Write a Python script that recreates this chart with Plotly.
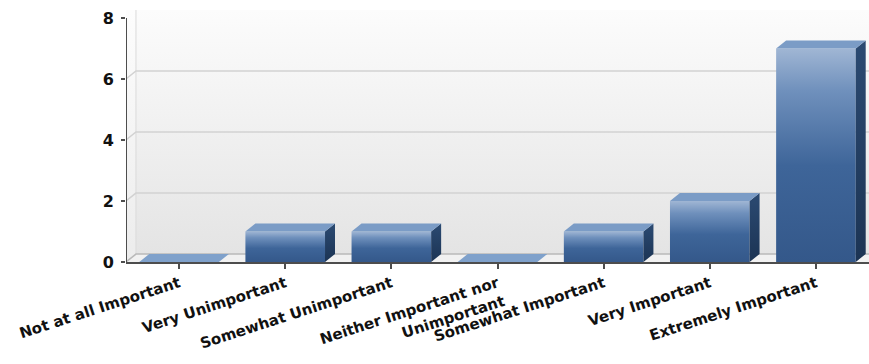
import plotly.graph_objects as go

# Survey responses: how important is it?
categories = [
    "Not at all Important",
    "Very Unimportant",
    "Somewhat Unimportant",
    "Neither Important nor<br>Unimportant",
    "Somewhat Important",
    "Very Important",
    "Extremely Important",
]
counts = [0, 1, 1, 0, 1, 2, 7]
y_ticks = [0, 2, 4, 6, 8]

# Pseudo-3D geometry (in axis units)
Y_MAX = 8
DEPTH_X = 0.094
DEPTH_Y = 0.26
HALF_W = 0.375
X_LO, X_HI = -0.5, len(categories) - 0.5
Y_TOP = Y_MAX + DEPTH_Y

AXIS_COLOR = "#4d4d4d"
FONT = "DejaVu Sans, Verdana, sans-serif"

fig = go.Figure()


def poly(xs, ys, color=None, gradient=None, line_color=None, line_width=0, hover=None):
    kw = dict(
        x=list(xs) + [xs[0]],
        y=list(ys) + [ys[0]],
        mode="lines",
        fill="toself",
        showlegend=False,
        line=dict(width=line_width, color=line_color or "rgba(0,0,0,0)"),
    )
    if gradient is not None:
        kw["fillgradient"] = gradient
    else:
        kw["fillcolor"] = color
    if hover is None:
        kw["hoverinfo"] = "skip"
    else:
        kw["hoveron"] = "fills"
        kw["text"] = hover
        kw["hoverinfo"] = "text"
    fig.add_trace(go.Scatter(**kw))


def vgrad(stops, start, stop):
    return dict(type="vertical", colorscale=stops, start=start, stop=stop)


# Back wall with a soft vertical gradient
poly([X_LO + DEPTH_X, X_HI, X_HI, X_LO + DEPTH_X],
     [DEPTH_Y, DEPTH_Y, Y_TOP, Y_TOP],
     gradient=vgrad([[0, "#e4e4e4"], [1, "#fcfcfc"]], DEPTH_Y, Y_TOP))

# Left side wall
poly([X_LO, X_LO + DEPTH_X, X_LO + DEPTH_X, X_LO],
     [0, DEPTH_Y, Y_TOP, Y_TOP],
     gradient=vgrad([[0, "#ececec"], [1, "#fdfdfd"]], 0, Y_TOP))

# Floor
poly([X_LO, X_HI + DEPTH_X, X_HI + DEPTH_X, X_LO + DEPTH_X],
     [0, 0, DEPTH_Y, DEPTH_Y], color="#f1f1f1")

# Wall edge and gridlines on the back wall
fig.add_trace(go.Scatter(
    x=[X_LO + DEPTH_X, X_LO + DEPTH_X], y=[DEPTH_Y, Y_TOP], mode="lines",
    line=dict(color="#dadada", width=1), hoverinfo="skip", showlegend=False))
for v in y_ticks[:-1]:
    fig.add_trace(go.Scatter(
        x=[X_LO, X_LO + DEPTH_X, X_HI],
        y=[v, v + DEPTH_Y, v + DEPTH_Y],
        mode="lines",
        line=dict(color="#b9b9b9" if v == 0 else "#d2d2d2", width=1.5),
        hoverinfo="skip", showlegend=False))

# Bars: front face, right side face and top face
front_scale = [[0, "#34588a"], [0.45, "#3e6599"], [0.8, "#6f90bc"], [1, "#a0b6d4"]]
side_scale = [[0, "#1c3454"], [1, "#2b4a72"]]
for i, v in enumerate(counts):
    x0, x1 = i - HALF_W, i + HALF_W
    if v > 0:
        poly([x0, x1, x1, x0], [0, 0, v, v],
             gradient=vgrad(front_scale, 0, v),
             hover=f"{categories[i].replace('<br>', ' ')}: {v}")
        poly([x1, x1 + DEPTH_X, x1 + DEPTH_X, x1],
             [0, DEPTH_Y, v + DEPTH_Y, v],
             gradient=vgrad(side_scale, 0, v + DEPTH_Y))
    poly([x0, x1, x1 + DEPTH_X, x0 + DEPTH_X],
         [v, v, v + DEPTH_Y, v + DEPTH_Y],
         color="#7b9cc6" if v > 0 else "#7fa1cb")

# Vertical axis line from 0 to the top tick
fig.add_shape(type="line", xref="x", yref="y", x0=X_LO, x1=X_LO, y0=0, y1=Y_MAX,
              line=dict(color=AXIS_COLOR, width=2))

fig.update_layout(
    width=869,
    height=364,
    template="none",
    margin=dict(l=126, r=0, t=10, b=102),
    paper_bgcolor="white",
    plot_bgcolor="white",
    showlegend=False,
    xaxis=dict(
        range=[X_LO, X_HI],
        tickmode="array",
        tickvals=list(range(len(categories))),
        ticktext=categories,
        tickangle=-18,
        tickfont=dict(family=FONT, size=15, color="#111111", weight="bold"),
        ticks="outside",
        ticklen=5,
        tickwidth=1.5,
        tickcolor=AXIS_COLOR,
        showline=True,
        linecolor=AXIS_COLOR,
        linewidth=2,
        showgrid=False,
        zeroline=False,
        automargin=False,
        fixedrange=True,
    ),
    yaxis=dict(
        range=[0, Y_TOP],
        tickmode="array",
        tickvals=y_ticks,
        tickfont=dict(family=FONT, size=16, color="#111111", weight="bold"),
        ticks="outside",
        ticklen=4,
        tickwidth=1.5,
        tickcolor=AXIS_COLOR,
        ticklabelstandoff=4,
        showline=False,
        showgrid=False,
        zeroline=False,
        automargin=False,
        fixedrange=True,
    ),
)

fig.write_html("out.html")
